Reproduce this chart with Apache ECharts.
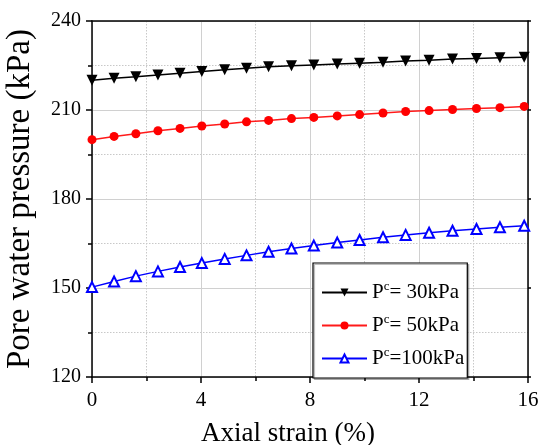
<!DOCTYPE html>
<html>
<head>
<meta charset="utf-8">
<script src="https://cdn.jsdelivr.net/npm/echarts@6/dist/echarts.min.js"></script>
<style>html,body{margin:0;padding:0;background:#fff}#c{width:539px;height:445px}</style>
</head>
<body>
<div id="c"></div>
<script>
var strain = [0, 0.81, 1.61, 2.42, 3.23, 4.03, 4.87, 5.67, 6.48, 7.32, 8.14, 9.0, 9.82, 10.68, 11.51, 12.37, 13.23, 14.11, 14.97, 15.86];
var p30 = [220.0, 220.7, 221.2, 221.8, 222.4, 223.0, 223.6, 224.1, 224.55, 224.9, 225.2, 225.5, 225.8, 226.1, 226.5, 226.8, 227.2, 227.4, 227.6, 227.8];
var p50 = [200.0, 201.1, 202.0, 203.0, 203.8, 204.6, 205.3, 206.0, 206.5, 207.1, 207.5, 208.0, 208.45, 209.0, 209.5, 209.8, 210.15, 210.5, 210.8, 211.2];
var p100 = [150.3, 152.2, 154.0, 155.6, 157.1, 158.4, 159.8, 161.0, 162.2, 163.3, 164.3, 165.3, 166.2, 167.1, 167.9, 168.6, 169.3, 169.9, 170.5, 171.0];
var names = ['30kPa', '50kPa', '100kPa'];
var xTicks = {min: 0, max: 16, interval: 4};
var yTicks = {min: 120, max: 240, interval: 30};

function pairs(ys) { return strain.map(function (x, i) { return [x, ys[i]]; }); }
var FONT = 'Liberation Serif';
var chart = echarts.init(document.getElementById('c'), null, {renderer: 'canvas'});
var axisLine = {show: true, onZero: false, lineStyle: {color: '#000', width: 1.5}};
var split = {show: true, lineStyle: {color: '#d0d0d0', width: 1, type: 'solid'}};
var minorSplit = {show: true, lineStyle: {color: '#c8c8c8', width: 1, type: [1.5, 1.5]}};
chart.setOption({
  animation: false,
  backgroundColor: '#fff',
  grid: {left: 92, right: 11, top: 21, bottom: 68, containLabel: false, outerBoundsMode: 'none'},
  xAxis: [{
    type: 'value', min: xTicks.min, max: xTicks.max, interval: xTicks.interval, position: 'bottom',
    name: 'Axial strain (%)', nameLocation: 'middle', nameGap: 43,
    nameTextStyle: {fontFamily: FONT, fontSize: 27, color: '#000', padding: [0, 44, 0, 0]},
    axisLine: axisLine,
    axisTick: {show: true, inside: false, length: 6, lineStyle: {color: '#000', width: 1.5}},
    minorTick: {show: true, splitNumber: 2, length: 4, lineStyle: {color: '#000', width: 1.5}},
    axisLabel: {fontFamily: FONT, fontSize: 21, color: '#000', margin: 13},
    splitLine: split, minorSplitLine: minorSplit
  }, {
    type: 'value', min: xTicks.min, max: xTicks.max, interval: xTicks.interval, position: 'top',
    axisLine: axisLine, axisTick: {show: false}, axisLabel: {show: false}, splitLine: {show: false}
  }],
  yAxis: [{
    type: 'value', min: yTicks.min, max: yTicks.max, interval: yTicks.interval, position: 'left',
    name: 'Pore water pressure (kPa)', nameLocation: 'middle', nameGap: 55,
    nameTextStyle: {fontFamily: FONT, fontSize: 33, color: '#000'},
    axisLine: axisLine,
    axisTick: {show: true, inside: false, length: 6, lineStyle: {color: '#000', width: 1.5}},
    minorTick: {show: true, splitNumber: 2, length: 4, lineStyle: {color: '#000', width: 1.5}},
    axisLabel: {fontFamily: FONT, fontSize: 20, color: '#000', margin: 11},
    splitLine: split, minorSplitLine: minorSplit
  }, {
    type: 'value', min: yTicks.min, max: yTicks.max, interval: yTicks.interval, position: 'right',
    axisLine: axisLine,
    axisTick: {show: true, inside: false, length: 3, lineStyle: {color: '#000', width: 1.5}},
    axisLabel: {show: false}, splitLine: {show: false}
  }],
  legend: {
    left: 313, top: 263, orient: 'vertical',
    itemWidth: 45, itemHeight: 10, itemGap: 10,
    padding: [17, 3, 9, 8],
    borderColor: '#000', borderWidth: 1.2, backgroundColor: '#fff',
    shadowColor: 'rgba(0,0,0,0.25)', shadowOffsetX: 1.5, shadowOffsetY: 1.5, shadowBlur: 0,
    data: names,
    formatter: function (n) { return '{a|P}{s|c}{a|=' + (n === '100kPa' ? '' : ' ') + n + '}'; },
    textStyle: {
      fontFamily: FONT, fontSize: 21, color: '#000',
      rich: {
        a: {fontFamily: FONT, fontSize: 21, color: '#000', lineHeight: 21},
        s: {fontFamily: FONT, fontSize: 13, color: '#000', padding: [0, 0, 12, 0]}
      }
    }
  },
  series: [{
    name: names[0], type: 'line', data: pairs(p30),
    symbol: 'triangle', symbolRotate: 180, symbolSize: 11,
    lineStyle: {color: '#000', width: 1.5}, itemStyle: {color: '#000'}
  }, {
    name: names[1], type: 'line', data: pairs(p50),
    symbol: 'circle', symbolSize: 9,
    lineStyle: {color: '#ff1a1a', width: 1.5}, itemStyle: {color: '#ff0000'}
  }, {
    name: names[2], type: 'line', data: pairs(p100),
    symbol: 'emptyTriangle', symbolSize: 10,
    lineStyle: {color: '#0000ff', width: 1.5}, itemStyle: {color: '#0000ff', borderWidth: 1.2}
  }]
});
</script>
</body>
</html>
